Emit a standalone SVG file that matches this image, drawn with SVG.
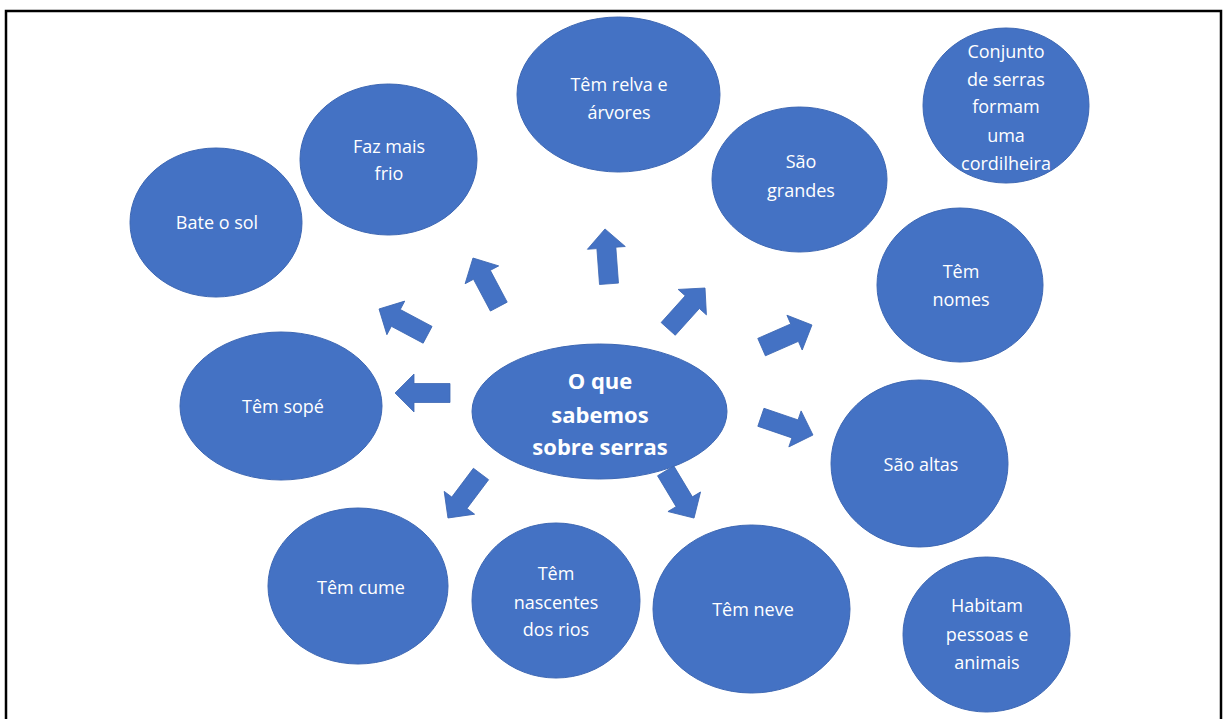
<svg xmlns="http://www.w3.org/2000/svg" width="1224" height="719" viewBox="0 0 1224 719">
<style>
.bub{fill:#4472C4;stroke:#3d67b3;stroke-width:1}
.t{fill:#ffffff;font-family:"Open Sans","Noto Sans","Liberation Sans",sans-serif;font-size:18px;text-anchor:middle}
.tb{fill:#ffffff;font-family:"Open Sans","Noto Sans","Liberation Sans",sans-serif;font-size:22px;font-weight:bold;text-anchor:middle}
.arr{fill:#4472C4;stroke:#3d67b3;stroke-width:0.8}
</style>
<defs>
<path id="arr" d="M0,-9.5 H36 V-19 L55,0 L36,19 V9.5 H0 Z"/>
</defs>
<rect x="0" y="0" width="1224" height="719" fill="#ffffff"/>
<rect x="6" y="11" width="1215" height="730" fill="none" stroke="#000000" stroke-width="2.5"/>
<g id="connectors">
<use href="#arr" class="arr" transform="translate(609,283.8) rotate(-94.2)"/>
<use href="#arr" class="arr" transform="translate(498.8,306.6) rotate(-118)"/>
<use href="#arr" class="arr" transform="translate(427.6,334.8) rotate(-152)"/>
<use href="#arr" class="arr" transform="translate(450,393) rotate(180)"/>
<use href="#arr" class="arr" transform="translate(481,474) rotate(126.9)"/>
<use href="#arr" class="arr" transform="translate(665.7,470.9) rotate(59)"/>
<use href="#arr" class="arr" transform="translate(760.9,417.3) rotate(18.8)"/>
<use href="#arr" class="arr" transform="translate(761.6,347.1) rotate(-23.7)"/>
<use href="#arr" class="arr" transform="translate(668.2,328.9) rotate(-48)"/>
</g>
<g id="n-relva">
<ellipse class="bub" cx="618.5" cy="94.5" rx="101.5" ry="77.5"/>
<text class="t" x="619" y="91">Têm relva e</text>
<text class="t" x="619" y="119">árvores</text>
</g>
<g id="n-frio">
<ellipse class="bub" cx="388.5" cy="159.5" rx="88.5" ry="75.5"/>
<text class="t" x="389" y="153">Faz mais</text>
<text class="t" x="389" y="180">frio</text>
</g>
<g id="n-sol">
<ellipse class="bub" cx="216" cy="222.5" rx="86" ry="74.5"/>
<text class="t" x="217" y="229">Bate o sol</text>
</g>
<g id="n-grandes">
<ellipse class="bub" cx="799.5" cy="179.5" rx="87.5" ry="72.5"/>
<text class="t" x="801" y="168">São</text>
<text class="t" x="801" y="197">grandes</text>
</g>
<g id="n-cordilheira">
<ellipse class="bub" cx="1006" cy="105.5" rx="83" ry="77.5"/>
<text class="t" x="1006" y="58">Conjunto</text>
<text class="t" x="1006" y="86">de serras</text>
<text class="t" x="1006" y="113">formam</text>
<text class="t" x="1006" y="142">uma</text>
<text class="t" x="1006" y="170">cordilheira</text>
</g>
<g id="n-nomes">
<ellipse class="bub" cx="960" cy="285" rx="83" ry="77"/>
<text class="t" x="961" y="278">Têm</text>
<text class="t" x="961" y="306">nomes</text>
</g>
<g id="n-sope">
<ellipse class="bub" cx="281" cy="406" rx="101" ry="74"/>
<text class="t" x="283" y="413">Têm sopé</text>
</g>
<g id="n-center">
<ellipse class="bub" cx="599.5" cy="411.5" rx="127.5" ry="67.5"/>
<text class="tb" x="600" y="388.5">O que</text>
<text class="tb" x="600" y="422.5">sabemos</text>
<text class="tb" x="600" y="454.5">sobre serras</text>
</g>
<g id="n-altas">
<ellipse class="bub" cx="919.5" cy="463.5" rx="88.5" ry="83.5"/>
<text class="t" x="921" y="471">São altas</text>
</g>
<g id="n-cume">
<ellipse class="bub" cx="358" cy="586" rx="90" ry="78"/>
<text class="t" x="361" y="594">Têm cume</text>
</g>
<g id="n-nascentes">
<ellipse class="bub" cx="556" cy="600.5" rx="84" ry="77.5"/>
<text class="t" x="556" y="580">Têm</text>
<text class="t" x="556" y="609">nascentes</text>
<text class="t" x="556" y="636">dos rios</text>
</g>
<g id="n-neve">
<ellipse class="bub" cx="751.5" cy="609" rx="98.5" ry="84"/>
<text class="t" x="753" y="616">Têm neve</text>
</g>
<g id="n-habitam">
<ellipse class="bub" cx="986.5" cy="634.5" rx="83.5" ry="77.5"/>
<text class="t" x="987" y="612">Habitam</text>
<text class="t" x="987" y="641">pessoas e</text>
<text class="t" x="987" y="669">animais</text>
</g>
</svg>
